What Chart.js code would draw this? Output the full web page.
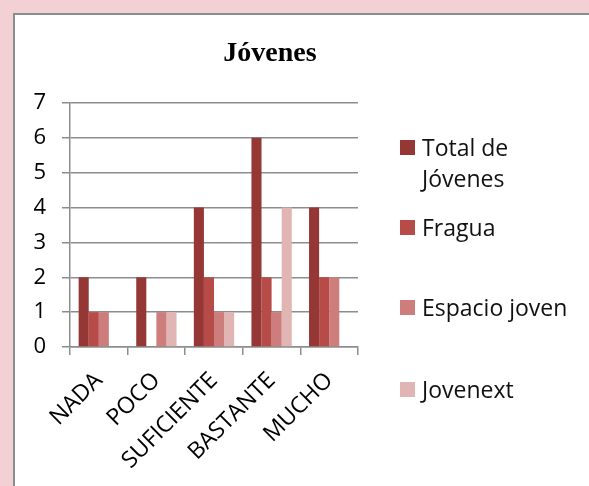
<!DOCTYPE html>
<html>
<head>
<meta charset="utf-8">
<script src="https://cdn.jsdelivr.net/npm/chart.js@4.4.0/dist/chart.umd.min.js"></script>
<style>
  body { margin: 0; width: 589px; height: 486px; overflow: hidden; background: #F2D0D3; font-family: "Open Sans", sans-serif; }
  #panel { position: absolute; left: 13px; top: 13px; width: 590px; height: 490px; background: #fff; border: 2px solid #8d8d8d; }
  #wrap { position: absolute; left: 0; top: 0; width: 510px; height: 471px; }
  .item { position: absolute; left: 385px; display: flex; align-items: flex-start; font-size: 23px; line-height: 31px; color: #111; }
  .sw { width: 15px; height: 15px; margin-top: 8px; margin-right: 7px; flex: none; }
  .txt { max-width: 160px; }
</style>
</head>
<body>
<div id="panel">
  <div id="wrap"><canvas id="chart"></canvas></div>
  <div id="legend"></div>
</div>
<script>
// chart values
const categories = ["NADA", "POCO", "SUFICIENTE", "BASTANTE", "MUCHO"];
const seriesNames = ["Total de Jóvenes", "Fragua", "Espacio joven", "Jovenext"];
const totalJovenes = [2, 2, 4, 6, 4];
const fragua = [1, 0, 2, 2, 2];
const espacioJoven = [1, 1, 1, 1, 2];
const jovenext = [0, 1, 1, 4, 0];
const yTicks = [0, 1, 2, 3, 4, 5, 6, 7];

const colors = ["#953735", "#B64B48", "#CD7E7C", "#E0B5B4"];
const values = [totalJovenes, fragua, espacioJoven, jovenext];

const ctx = document.getElementById("chart").getContext("2d");
const chart = new Chart(ctx, {
    type: "bar",
    data: {
        labels: categories,
        datasets: seriesNames.map((name, i) => ({
            label: name,
            data: values[i],
            backgroundColor: colors[i],
            categoryPercentage: 0.7,
            barPercentage: 1.0
        }))
    },
    options: {
        responsive: true,
        maintainAspectRatio: false,
        animation: false,
        layout: { padding: 0 },
        plugins: {
            legend: { display: false },
            tooltip: { enabled: false },
            title: {
                display: true,
                text: "Jóvenes",
                color: "#000",
                font: { family: "'Liberation Serif', serif", size: 28, weight: "bold" },
                padding: { top: 22, bottom: 32.4 }
            }
        },
        scales: {
            x: {
                afterFit: s => { s.height = 139; },
                grid: { drawOnChartArea: false, color: "#8d8d8d", lineWidth: 1.5, tickLength: 8, offset: true },
                border: { color: "#8d8d8d", width: 1.5 },
                ticks: {
                    color: "#000",
                    maxRotation: 45, minRotation: 45,
                    padding: 12,
                    labelOffset: 0,
                    font: { family: "'Open Sans', sans-serif", size: 23 }
                }
            },
            y: {
                min: 0, max: 7,
                afterFit: s => { s.width = 55; },
                afterBuildTicks: s => { s.ticks = yTicks.map(v => ({ value: v })); },
                grid: { color: "#8d8d8d", lineWidth: 1.5, tickLength: 8 },
                border: { color: "#8d8d8d", width: 1.5 },
                ticks: {
                    color: "#000",
                    padding: 16,
                    font: { family: "'Open Sans', sans-serif", size: 22 }
                }
            },
            // empty axis on the right keeps room for the legend
            side: {
                position: "right",
                min: 0, max: 7,
                afterFit: s => { s.width = 167; },
                grid: { display: false },
                border: { display: false },
                ticks: { display: false }
            }
        }
    }
});

// legend on the right, drawn as html so the long label can wrap
const legendTops = [117, 197, 277, 359];
const legend = document.getElementById("legend");
seriesNames.forEach((name, i) => {
    const div = document.createElement("div");
    div.className = "item";
    div.style.top = legendTops[i] + "px";
    div.innerHTML = '<span class="sw" style="background:' + colors[i] + '"></span><span class="txt">' + name + "</span>";
    legend.appendChild(div);
});
</script>
</body>
</html>
